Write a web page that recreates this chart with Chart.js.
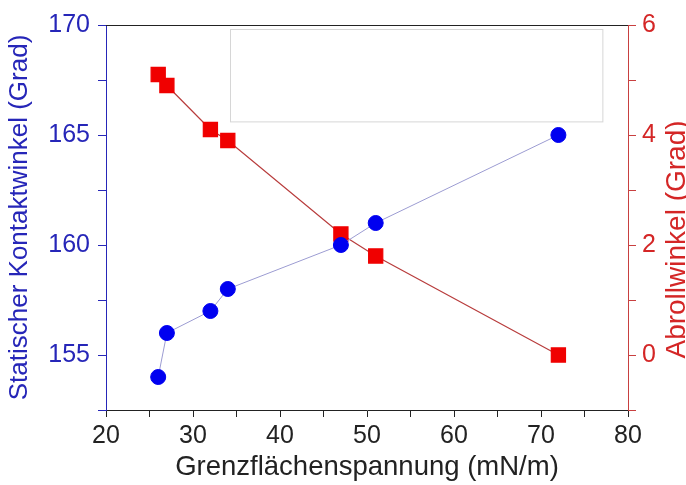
<!DOCTYPE html>
<html lang="de">
  <head>
    <meta charset="UTF-8" />
    <title>Kontaktwinkel</title>
    <script src="https://cdn.jsdelivr.net/npm/chart.js"></script>
    <style>
      html, body { margin: 0; padding: 0; background: #fff; }
      #wrap { width: 686px; height: 485px; }
    </style>
  </head>
  <body>
    <div id="wrap"><canvas id="chart"></canvas></div>
    <script>
      // Daten
      const spannung = [26, 27, 32, 34, 47, 51, 72]; // mN/m
      const kontaktwinkel = [154, 156, 157, 158, 160, 161, 165];
      const abrollwinkel = [5.1, 4.9, 4.1, 3.9, 2.2, 1.8, 0];
      const xTicks = [20, 30, 40, 50, 60, 70, 80];
      const leftTicks = [155, 160, 165, 170];
      const rightTicks = [0, 2, 4, 6];

      const font = 'Liberation Sans, Arial, sans-serif';
      const blue = '#2626b8';
      const red = '#d42626';

      // obere Linie, leerer Legendenrahmen, rechter Achsentitel (von unten nach oben)
      const frame = {
        id: 'frame',
        afterDraw(chart) {
          const c = chart.ctx, a = chart.chartArea;
          const x = chart.scales.x, y = chart.scales.y, y1 = chart.scales.y1;
          c.save();
          c.strokeStyle = '#222';
          c.lineWidth = 1;
          c.beginPath();
          c.moveTo(a.left, a.top + 0.5);
          c.lineTo(a.right, a.top + 0.5);
          c.stroke();
          c.strokeStyle = '#d6d6d6';
          const x1 = x.getPixelForValue(34.3), x2 = x.getPixelForValue(77.1);
          const yA = y.getPixelForValue(169.8), yB = y.getPixelForValue(165.6);
          c.strokeRect(Math.round(x1) + 0.5, Math.round(yA) + 0.5, x2 - x1, yB - yA);

          c.translate(677, (y1.getPixelForValue(4.3) + y1.getPixelForValue(-0.1)) / 2);
          c.rotate(-Math.PI / 2);
          c.fillStyle = red;
          c.font = '28px ' + font;
          c.textAlign = 'center';
          c.textBaseline = 'middle';
          c.fillText('Abrollwinkel (Grad)', 0, 0);
          c.restore();
        }
      };

      const toPts = (ys) => spannung.map((v, i) => ({ x: v, y: ys[i] }));

      new Chart(document.getElementById('chart'), {
        type: 'scatter',
        data: {
          datasets: [{
            label: 'Statischer Kontaktwinkel',
            data: toPts(kontaktwinkel),
            yAxisID: 'y',
            showLine: true,
            borderColor: '#9c9cd2',
            borderWidth: 1,
            backgroundColor: '#0000f0',
            pointBorderColor: '#0000f0',
            pointRadius: 7.5,
            pointStyle: 'circle'
          }, {
            label: 'Abrollwinkel',
            data: toPts(abrollwinkel),
            yAxisID: 'y1',
            showLine: true,
            borderColor: '#b83c3c',
            borderWidth: 1.2,
            backgroundColor: '#f00000',
            pointBorderColor: '#f00000',
            pointRadius: 10,
            pointStyle: 'rect'
          }]
        },
        options: {
          responsive: true,
          maintainAspectRatio: false,
          animation: false,
          layout: { padding: { top: 25, left: 0, right: 0, bottom: 0 } },
          plugins: { legend: { display: false }, tooltip: { enabled: false } },
          scales: {
            x: {
              type: 'linear',
              min: 20, max: 80,
              afterFit: (s) => { s.height = 75; },
              border: { display: true, color: '#222', width: 1 },
              grid: { drawOnChartArea: false, drawTicks: true, tickLength: 7, color: '#222' },
              ticks: {
                stepSize: 5, padding: 4, color: '#222', font: { family: font, size: 25 },
                maxRotation: 0, autoSkip: false,
                callback: (v) => xTicks.includes(v) ? v : ''
              },
              title: { display: true, text: 'Grenzflächenspannung (mN/m)', color: '#222', font: { family: font, size: 27.5 }, padding: { top: 4, bottom: 1 } }
            },
            y: {
              type: 'linear', position: 'left',
              min: 152.5, max: 170,
              afterFit: (s) => { s.width = 106; },
              border: { display: true, color: blue, width: 1 },
              grid: { drawOnChartArea: false, drawTicks: true, tickLength: 8, color: blue },
              ticks: {
                stepSize: 2.5, padding: 8, color: blue, font: { family: font, size: 25 },
                autoSkip: false,
                callback: (v) => leftTicks.includes(v) ? v : ''
              },
              title: { display: true, text: 'Statischer Kontaktwinkel (Grad)', color: blue, font: { family: font, size: 26 }, padding: { top: 4, bottom: 4 } }
            },
            y1: {
              type: 'linear', position: 'right',
              min: -1, max: 6,
              afterFit: (s) => { s.width = 58; },
              border: { display: true, color: '#c84040', width: 1 },
              grid: { drawOnChartArea: false, drawTicks: true, tickLength: 8, color: '#c84040' },
              ticks: {
                stepSize: 1, padding: 6, color: red, font: { family: font, size: 25 },
                autoSkip: false,
                callback: (v) => rightTicks.includes(v) ? v : ''
              },
              title: { display: false }
            }
          }
        },
        plugins: [frame]
      });
    </script>
  </body>
</html>
